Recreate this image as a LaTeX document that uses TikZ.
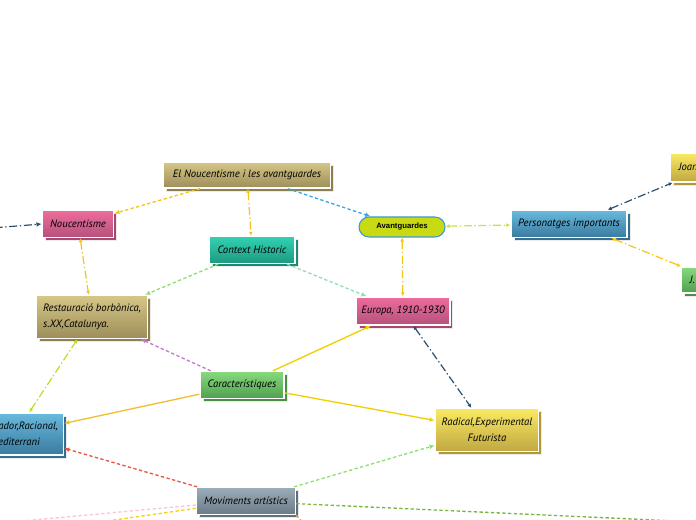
\documentclass[tikz,border=0pt]{standalone}
\usepackage{fontspec}
\setmainfont{PT Sans}
\setsansfont{Liberation Sans}
\usetikzlibrary{arrows.meta,shadows}
\definecolor{khT}{HTML}{D6C787}\definecolor{khB}{HTML}{9D8D5A}\definecolor{khS}{HTML}{8E7F50}
\definecolor{piT}{HTML}{EE6C9C}\definecolor{piB}{HTML}{B4527C}\definecolor{piS}{HTML}{A84870}
\definecolor{teT}{HTML}{32D2B2}\definecolor{teB}{HTML}{1E9880}\definecolor{teS}{HTML}{1A8A74}
\definecolor{blT}{HTML}{68BADE}\definecolor{blB}{HTML}{3A7A9E}\definecolor{blS}{HTML}{356F90}
\definecolor{yeT}{HTML}{FAEA62}\definecolor{yeB}{HTML}{C0A742}\definecolor{yeS}{HTML}{B09838}
\definecolor{grT}{HTML}{86DA7C}\definecolor{grB}{HTML}{50A050}\definecolor{grS}{HTML}{489048}
\definecolor{gyT}{HTML}{9CACB8}\definecolor{gyB}{HTML}{6A7A86}\definecolor{gyS}{HTML}{606E7A}
\definecolor{avFill}{HTML}{C8DA12}\definecolor{avDraw}{HTML}{3A9AD9}
\definecolor{lnGold}{HTML}{F5C518}\definecolor{lnDark}{HTML}{2D4F6C}\definecolor{lnBlue}{HTML}{3AA8E0}
\definecolor{lnLgreen}{HTML}{90E070}\definecolor{lnMint}{HTML}{90E0B0}\definecolor{lnLime}{HTML}{D0E040}
\definecolor{lnLime2}{HTML}{C8D820}\definecolor{lnYel}{HTML}{F0D000}\definecolor{lnOra}{HTML}{F0C030}
\definecolor{lnPurp}{HTML}{C878D0}\definecolor{lnRed}{HTML}{E85545}\definecolor{lnGreen}{HTML}{78B840}
\definecolor{lnPink}{HTML}{F8C8D8}\definecolor{lnOrange}{HTML}{F0A030}
\tikzset{
  card/.style={rectangle, draw=white, line width=1pt, inner xsep=4pt, inner ysep=2pt,
    font=\fontsize{8}{12}\selectfont\itshape, text=black},
  shad/.style={general shadow={shadow xshift=2.2pt, shadow yshift=-2.2pt, fill=#1, draw=black!8, line width=.6pt}},
  khaki/.style={card, top color=khT, bottom color=khB, shad=khS},
  pinkn/.style={card, top color=piT, bottom color=piB, shad=piS},
  tealn/.style={card, top color=teT, bottom color=teB, shad=teS},
  bluen/.style={card, top color=blT, bottom color=blB, shad=blS},
  yelln/.style={card, top color=yeT, bottom color=yeB, shad=yeS},
  greenn/.style={card, top color=grT, bottom color=grB, shad=grS},
  grayn/.style={card, top color=gyT, bottom color=gyB, shad=gyS},
  avt/.style={rectangle, rounded corners=7.5pt, fill=avFill, draw=avDraw, line width=.8pt,
    font=\sffamily\bfseries\fontsize{5.8}{6}\selectfont, minimum width=64.5pt, minimum height=15pt},
  dd/.style={dash pattern=on 6pt off 2pt on 1pt off 2pt, line width=.9pt},
  ds/.style={dash pattern=on 2.5pt off 1.8pt, line width=1pt},
  sl/.style={line width=1pt},
  tip/.style={-{Latex[length=4pt,width=3.5pt]}},
  both/.style={{Latex[length=3pt,width=3pt]}-{Latex[length=3pt,width=3pt]}},
}
\begin{document}
\begin{tikzpicture}[x=0.75pt,y=-0.75pt]
\useasboundingbox (0,0) rectangle (696,520);
\clip (0,0) rectangle (696,520);
\fill[white] (0,0) rectangle (696,520);
% nodes
\node[khaki, minimum width=125pt, minimum height=19.5pt] (root) at (247,175) {El Noucentisme i les avantguardes};
\node[pinkn, minimum width=53.25pt, minimum height=20.25pt] (nouc) at (78,224) {Noucentisme};
\node[tealn, minimum width=64.5pt, minimum height=20.25pt] (ctx) at (252,250) {Context Historic};
\node[avt] (avt) at (402,227) {Avantguardes};
\node[bluen, minimum width=87pt, minimum height=20.25pt] (pers) at (569,224) {Personatges importants};
\node[yelln, anchor=west, inner xsep=6pt, minimum height=21.75pt] (joan) at (670,167.5) {Joan Salvat-Papasseit};
\node[greenn, anchor=west, inner xsep=6pt, minimum height=19.5pt] (jv) at (681,280) {J.V. Foix};
\node[pinkn, minimum width=68.25pt, minimum height=21pt] (eur) at (403,311) {Europa, 1910-1930};
\node[khaki, minimum width=83.25pt, minimum height=32.25pt, align=left] (rest) at (92,317) {Restauració borbònica,\\s.XX,Catalunya.};
\node[greenn, minimum width=63pt, minimum height=20.25pt] (car) at (242,385) {Característiques};
\node[bluen, minimum width=68pt, minimum height=31.5pt, align=center] (ord) at (15,434) {Ordenador,Racional,\\Mediterrani};
\node[yelln, minimum width=77.25pt, minimum height=32.25pt, align=center] (rad) at (487,430) {Radical,Experimental\\Futurista};
\node[grayn, minimum width=74.25pt, minimum height=20.25pt] (mov) at (246,501) {Moviments artístics};
% free ends
\coordinate (lft) at (-20,229);
\coordinate (brt) at (720,523);
\coordinate (blp) at (-10,524);
\coordinate (bly) at (90,523.5);
\coordinate (bor) at (312,532);
% connectors
\draw[ds, lnGold, tip] (root) -- (nouc);
\draw[dd, lnGold, both] (root) -- (ctx);
\draw[ds, lnBlue, tip] (root) -- (avt);
\draw[dd, lnDark, tip] (lft) -- (nouc.west);
\draw[dd, lnGold, both] (nouc) -- (rest);
\draw[ds, lnLgreen, tip] (ctx) -- (rest);
\draw[ds, lnMint, tip] (ctx) -- (eur);
\draw[dd, lnGold, both] (avt) -- (eur);
\draw[dd, lnLime, both] (avt) -- (pers);
\draw[dd, lnDark, both] ([xshift=-15pt]pers.north east) -- ([xshift=2pt]joan.south west);
\draw[dd, lnGold, both] ([xshift=-12pt]pers.south east) -- (jv.north west);
\draw[dd, lnDark, both] (eur) -- (rad);
\draw[sl, lnYel, tip] (car) -- (eur);
\draw[ds, lnPurp, tip] (car) -- (rest);
\draw[sl, lnYel, tip] (car) -- (rad);
\draw[sl, lnOra, tip] (car) -- (ord);
\draw[dd, lnLime2, both] (ord) -- (rest);
\draw[ds, lnRed, tip] (mov) -- (ord);
\draw[ds, lnLgreen, tip] (mov) -- (rad);
\draw[ds, lnGreen] ([yshift=-2pt]mov.east) -- (brt);
\draw[ds, lnPink] ([yshift=-3pt]mov.west) -- (blp);
\draw[ds, lnGold!80!yellow] ([yshift=-5.5pt]mov.west) -- (bly);
\draw[ds, lnOrange] (mov.south east) -- (bor);
\end{tikzpicture}
\end{document}
